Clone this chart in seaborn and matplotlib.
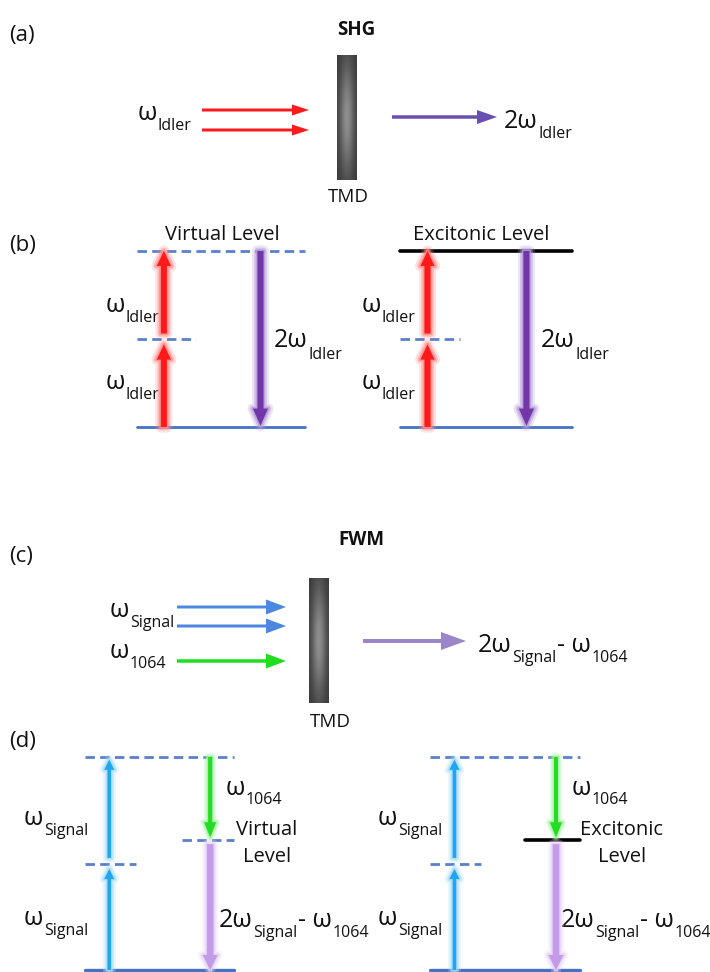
import numpy as np
import matplotlib
matplotlib.use("Agg")
import matplotlib.pyplot as plt
import matplotlib.patheffects as pe
from matplotlib.patches import FancyArrowPatch
import seaborn as sns

# ---- photon energies (in units of one idler / one signal photon) ----
idler_photon = 1.0
signal_photon = 1.0
pump_1064_photon = 0.78

# level energies derived from the photons
shg_levels = {"ground": 0.0, "mid": idler_photon, "top": 2 * idler_photon}
fwm_levels = {"ground": 0.0, "mid": signal_photon, "top": 2 * signal_photon,
              "lower": 2 * signal_photon - pump_1064_photon}

panel_tags = ["(a)", "(b)", "(c)", "(d)"]
process_titles = ["SHG", "FWM"]
sample_name = "TMD"
shg_level_names = ["Virtual Level", "Excitonic Level"]
fwm_level_names = [["Virtual", "Level"], ["Excitonic", "Level"]]

sns.set_theme(style="white")
FONT = ["Open Sans", "DejaVu Sans"]
plt.rcParams["font.family"] = FONT

W, H = 710, 972
fig = plt.figure(figsize=(W / 100, H / 100), dpi=100)
fig.patch.set_facecolor("white")
base = fig.add_axes([0, 0, 1, 1])
base.set_xlim(0, W)
base.set_ylim(H, 0)
base.axis("off")

PT = 72 / 100  # points per pixel

RED, RED_GLOW = "#ff1a1a", "#ff8c8c"
PURPLE, PURPLE_GLOW = "#7236a8", "#b69ad8"
SHG_OUT = "#6a4fb2"
BLUE_IN = "#4d88e0"
GREEN, GREEN_GLOW = "#22dd22", "#a6f2a6"
CYAN, CYAN_GLOW = "#1ea6ee", "#a8dcf8"
LAVENDER, LAVENDER_GLOW = "#c49be8", "#e6d4f6"
FWM_OUT = "#9a86c8"
LEVEL_BLUE = "#4472c4"
DASH_BLUE = "#5a80cc"
INK = "#111111"
DASH = (0, (3.4, 1.9))

BIG, SUB = 18, 11.5


def px_axes(x0, y0, x1, y1):
    ax = fig.add_axes([x0 / W, 1 - y1 / H, (x1 - x0) / W, (y1 - y0) / H])
    ax.patch.set_alpha(0)
    return ax


def arrow(ax, p0, p1, color, shaft, head_w, head_l, glow=None, glow_w=0.0,
          shrink_a=0.0, shrink_b=0.0, z=4):
    style = (f"simple,head_length={head_l * PT:.2f},"
             f"head_width={head_w * PT:.2f},tail_width={shaft * PT:.2f}")
    a = FancyArrowPatch(p0, p1, arrowstyle=style, mutation_scale=1,
                        facecolor=color, edgecolor="none", lw=0,
                        shrinkA=shrink_a, shrinkB=shrink_b,
                        clip_on=False, zorder=z)
    if glow:
        a.set_path_effects([
            pe.Stroke(linewidth=glow_w, foreground=glow, alpha=0.25),
            pe.Stroke(linewidth=glow_w * 0.6, foreground=glow, alpha=0.45),
            pe.Stroke(linewidth=glow_w * 0.3, foreground=glow, alpha=0.8),
            pe.Normal(),
        ])
    ax.add_patch(a)


def level(ax, x0, x1, e, color, ls, lw):
    sns.lineplot(x=[x0, x1], y=[e, e], ax=ax, color=color, linestyle=ls,
                 lw=lw, clip_on=False, legend=False, zorder=2)


def label(parts, x, y, ax=base):
    """Chain of text pieces: (text, size, drop in points below the base)."""
    first = ax.text(x, y, parts[0][0], fontsize=parts[0][1], va="baseline",
                    ha="left", family=FONT, color=INK, zorder=6)
    prev = first
    for s, size, drop in parts[1:]:
        prev = ax.annotate(s, xy=(1, 0), xycoords=(prev, first),
                           xytext=(0.3, -drop), textcoords="offset points",
                           fontsize=size, va="bottom", ha="left",
                           family=FONT, color=INK, zorder=6)


def slab(x0, x1, y0, y1):
    ny, nx = 140, 24
    v, u = np.mgrid[-1:1:ny * 1j, -1:1:nx * 1j]
    g = 0.22 + 0.34 * np.exp(-((u / 0.75) ** 2 + (v / 0.9) ** 2))
    base.imshow(g, extent=[x0, x1, y1, y0], cmap="gray", vmin=0, vmax=1,
                aspect="auto", interpolation="bilinear", zorder=3)


def finish(ax, ylim):
    ax.set_xlim(0, 1)
    ax.set_ylim(*ylim)
    ax.axis("off")


# ---------------- panel tags / titles ----------------
for tag, y in zip(panel_tags, [36, 245, 556, 741]):
    base.text(9, y, tag, fontsize=16, va="center", ha="left", color=INK)
for title, (x, y) in zip(process_titles, [(356, 30), (361, 540)]):
    base.text(x, y, title, fontsize=13.5, fontweight="bold", va="center",
              ha="center", color=INK)

# ---------------- (a) SHG schematic ----------------
slab(337, 357, 55, 180)
base.text(348, 197, sample_name, fontsize=13.5, va="center", ha="center",
          color=INK)
for y in [110, 130]:
    arrow(base, (202, y), (309, y), RED, 3, 11, 17)
arrow(base, (392, 117), (497, 117), SHG_OUT, 3.5, 14, 20)
label([("ω", BIG, 0), ("Idler", SUB, 6)], 138, 120)
label([("2ω", BIG, 0), ("Idler", SUB, 6)], 504, 128)

# ---------------- (b) SHG level diagrams ----------------
for k, (x0, x1) in enumerate([(137, 305), (400, 572)]):
    ax = px_axes(x0, 251, x1, 427)
    level(ax, 0, 1, shg_levels["ground"], LEVEL_BLUE, "-", 2.0)
    level(ax, 0, 0.35, shg_levels["mid"], DASH_BLUE, DASH, 2.0)
    if k == 0:
        level(ax, 0, 1, shg_levels["top"], DASH_BLUE, DASH, 2.0)
    else:
        level(ax, 0, 1, shg_levels["top"], "black", "-", 2.6)
    xr, xp = 0.16, 0.735
    arrow(ax, (xr, shg_levels["ground"]), (xr, shg_levels["mid"]), RED, 6, 14, 15,
          glow=RED_GLOW, glow_w=8, shrink_b=-4)
    arrow(ax, (xr, shg_levels["mid"]), (xr, shg_levels["top"]), RED, 6, 14, 15,
          glow=RED_GLOW, glow_w=8, shrink_a=4)
    arrow(ax, (xp, shg_levels["top"]), (xp, shg_levels["ground"]), PURPLE, 6, 15, 17,
          glow=PURPLE_GLOW, glow_w=8, shrink_b=1)
    finish(ax, (shg_levels["ground"], shg_levels["top"]))
    base.text(222 if k == 0 else 481, 240, shg_level_names[k], fontsize=14.5,
              ha="center", va="baseline", color=INK)
    lx = 106 if k == 0 else 362
    label([("ω", BIG, 0), ("Idler", SUB, 6)], lx, 312)
    label([("ω", BIG, 0), ("Idler", SUB, 6)], lx, 389)
    label([("2ω", BIG, 0), ("Idler", SUB, 7)], 274 if k == 0 else 541, 347)

# ---------------- (c) FWM schematic ----------------
slab(309, 329, 578, 703)
base.text(330, 722, sample_name, fontsize=13.5, va="center", ha="center",
          color=INK)
for y in [607, 626]:
    arrow(base, (177, y), (286, y), BLUE_IN, 3, 15, 20)
arrow(base, (177, 661), (286, 661), GREEN, 3.5, 15, 20)
arrow(base, (363, 641), (466, 641), FWM_OUT, 4, 18, 25)
label([("ω", BIG, 0), ("Signal", SUB, 6)], 110, 617)
label([("ω", BIG, 0), ("1064", SUB, 6)], 110, 658)
label([("2ω", BIG, 0), ("Signal", SUB, 6), ("- ω", BIG, 0), ("1064", SUB, 6)],
      478, 652)

# ---------------- (d) FWM level diagrams ----------------
for k, (x0, x1) in enumerate([(85, 234), (430, 580)]):
    ax = px_axes(x0, 757, x1, 970)
    level(ax, 0, 1, fwm_levels["ground"], LEVEL_BLUE, "-", 2.4)
    level(ax, 0, 0.34, fwm_levels["mid"], DASH_BLUE, DASH, 2.0)
    level(ax, 0, 1, fwm_levels["top"], DASH_BLUE, DASH, 2.0)
    if k == 0:
        level(ax, 0.65, 1, fwm_levels["lower"], DASH_BLUE, DASH, 2.0)
    else:
        level(ax, 0.63, 1.0, fwm_levels["lower"], "black", "-", 2.6)
    xc, xg = 0.163, 0.84
    arrow(ax, (xc, fwm_levels["ground"]), (xc, fwm_levels["mid"]), CYAN, 3.5, 10, 10,
          glow=CYAN_GLOW, glow_w=7, shrink_b=-4)
    arrow(ax, (xc, fwm_levels["mid"]), (xc, fwm_levels["top"]), CYAN, 3.5, 10, 10,
          glow=CYAN_GLOW, glow_w=7, shrink_a=4, shrink_b=2)
    arrow(ax, (xg, fwm_levels["top"]), (xg, fwm_levels["lower"]), GREEN, 4, 12, 15,
          glow=GREEN_GLOW, glow_w=6, shrink_b=2)
    arrow(ax, (xg, fwm_levels["lower"]), (xg, fwm_levels["ground"]), LAVENDER, 6.5, 15, 15,
          glow=LAVENDER_GLOW, glow_w=7, shrink_a=3)
    finish(ax, (fwm_levels["ground"], fwm_levels["top"]))

    lx = 24 if k == 0 else 378
    label([("ω", BIG, 0), ("Signal", SUB, 6)], lx, 825)
    label([("ω", BIG, 0), ("Signal", SUB, 6)], lx, 925)
    label([("ω", BIG, 0), ("1064", SUB, 5)], 226 if k == 0 else 572, 795)
    cx = 267 if k == 0 else 622
    for line, yb in zip(fwm_level_names[k], [835, 862]):
        base.text(cx, yb, line, fontsize=14.5, ha="center", va="baseline",
                  color=INK)
    label([("2ω", BIG, 0), ("Signal", SUB, 6), ("- ω", BIG, 0), ("1064", SUB, 6)],
          219 if k == 0 else 561, 927)

fig.savefig("out.png", dpi=100, facecolor="white")
